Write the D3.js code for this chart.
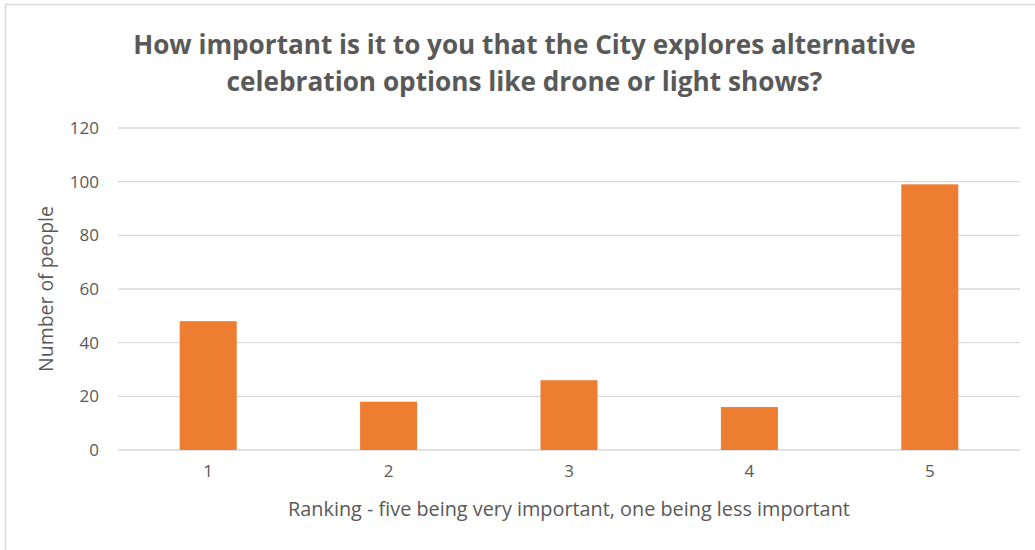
<!DOCTYPE html>
<html>
<head>
<meta charset="utf-8">
<script src="https://cdn.jsdelivr.net/npm/d3@7"></script>
<style>
  html, body { margin: 0; padding: 0; background: #fff; }
  svg { display: block; }
  text { font-family: "Open Sans", "Noto Sans", sans-serif; fill: #595959; }
</style>
</head>
<body>
<svg id="chart" width="1035" height="550"></svg>
<script>
// Survey responses: importance ranking (1 = less important, 5 = very important)
const categories = ["1", "2", "3", "4", "5"];
const counts = [48, 18, 26, 16, 99];
const yTicks = [0, 20, 40, 60, 80, 100, 120];

const titleLines = [
  "How important is it to you that the City explores alternative",
  "celebration options like drone or light shows?"
];
const xTitle = "Ranking - five being very important, one being less important";
const yTitle = "Number of people";

const W = 1035, H = 550;
const plot = { left: 118, right: 1020, top: 128, bottom: 450 };

const svg = d3.select("#chart");

// Chart frame
svg.append("rect")
  .attr("x", 5.5).attr("y", 4.5)
  .attr("width", 1038).attr("height", 560)
  .attr("fill", "#fff")
  .attr("stroke", "#d9d9d9")
  .attr("stroke-width", 1.5);

const x = d3.scaleBand()
  .domain(categories)
  .range([plot.left, plot.right])
  .paddingInner(0.684)
  .paddingOuter(0.342);

const y = d3.scaleLinear()
  .domain([0, 120])
  .range([plot.bottom, plot.top]);

// Horizontal gridlines
svg.append("g")
  .selectAll("line")
  .data(yTicks)
  .join("line")
  .attr("x1", plot.left).attr("x2", plot.right)
  .attr("y1", d => y(d)).attr("y2", d => y(d))
  .attr("stroke", "#d9d9d9")
  .attr("stroke-width", 1.4);

const tickFont = "17px";

// Y axis labels
const yAxis = d3.axisLeft(y).tickValues(yTicks).tickSize(0).tickPadding(0);
const gy = svg.append("g")
  .attr("transform", `translate(${plot.left - 19},0)`)
  .call(yAxis);
gy.select(".domain").remove();
gy.selectAll("text")
  .style("font-family", "\"Open Sans\", \"Noto Sans\", sans-serif")
  .style("font-size", tickFont)
  .attr("fill", "#595959");

// X axis labels
const xAxis = d3.axisBottom(x).tickSize(0).tickPadding(0);
const gx = svg.append("g")
  .attr("transform", `translate(0,${plot.bottom + 15})`)
  .call(xAxis);
gx.select(".domain").remove();
gx.selectAll("text")
  .style("font-family", "\"Open Sans\", \"Noto Sans\", sans-serif")
  .style("font-size", tickFont)
  .attr("fill", "#595959");

// Bars
svg.append("g")
  .selectAll("rect")
  .data(categories.map((c, i) => ({ c, v: counts[i] })))
  .join("rect")
  .attr("x", d => x(d.c))
  .attr("width", x.bandwidth())
  .attr("y", d => y(d.v))
  .attr("height", d => y(0) - y(d.v))
  .attr("fill", "#ed7d31");

// Scale a text's font size so it spans the given width
function fitWidth(sel, target) {
  const node = sel.node();
  const fs = parseFloat(sel.style("font-size"));
  const w = node.getComputedTextLength();
  sel.style("font-size", (fs * target / w).toFixed(2) + "px");
}

// Title
const titleWidths = [783, 596];
titleLines.forEach((line, i) => {
  const t = svg.append("text")
    .attr("x", 524.5)
    .attr("y", 54 + i * 37)
    .attr("text-anchor", "middle")
    .style("font-size", "24px")
    .style("font-weight", "bold")
    .text(line);
  fitWidth(t, titleWidths[i]);
});

// Axis titles
const xt = svg.append("text")
  .attr("x", (plot.left + plot.right) / 2)
  .attr("y", 516)
  .attr("text-anchor", "middle")
  .style("font-size", "16px")
  .text(xTitle);
fitWidth(xt, 562);

const yt = svg.append("text")
  .attr("transform", `translate(53,${(plot.top + plot.bottom) / 2}) rotate(-90)`)
  .attr("text-anchor", "middle")
  .style("font-size", "16px")
  .text(yTitle);
fitWidth(yt, 166);
</script>
</body>
</html>
